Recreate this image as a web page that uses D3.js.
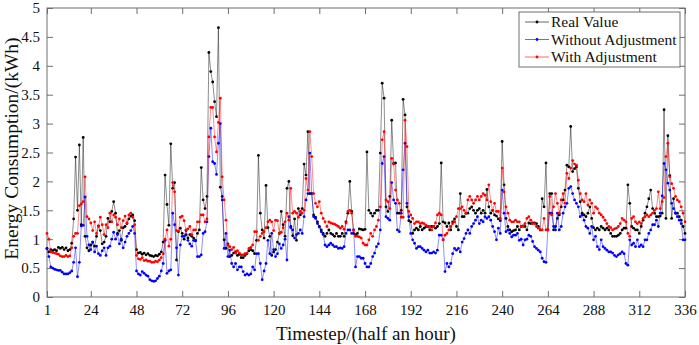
<!DOCTYPE html>
<html>
<head>
<meta charset="utf-8">
<script src="https://cdn.jsdelivr.net/npm/d3@7"></script>
<style>
body { margin: 0; background: #fff; }
svg text { font-family: "Liberation Serif", "Times New Roman", serif; }
</style>
</head>
<body>
<script>
var w = 699;
var h = 345;
var plotLeft = 47, plotRight = 685, plotTop = 8, plotBottom = 297;
var serif = "Liberation Serif, Times New Roman, serif";

var xTicks = [1, 24, 48, 72, 96, 120, 144, 168, 192, 216, 240, 264, 288, 312, 336];
var yTicks = [0, 0.5, 1, 1.5, 2, 2.5, 3, 3.5, 4, 4.5, 5];
var seriesNames = ["Real Value", "Without Adjustment", "With Adjustment"];
var seriesColors = ["#000000", "#0000ff", "#ff0000"];

// half-hour steps 1..336
var realValue = [
  0.84, 0.78, 0.82, 0.80, 0.82, 0.80, 0.86, 0.84, 0.86, 0.82, 0.85, 0.80,
  0.82, 0.93, 1.35, 2.42, 1.50, 2.63, 1.25, 2.76, 1.05, 0.85, 0.80, 0.90,
  0.95, 0.88, 1.05, 1.23, 1.15, 0.92, 0.95, 1.05, 1.36, 1.30, 1.48, 1.65,
  1.45, 1.10, 1.15, 0.98, 1.20, 1.22, 1.27, 1.35, 1.40, 1.42, 1.32, 0.82,
  0.76, 0.77, 0.74, 0.76, 0.73, 0.75, 0.72, 0.71, 0.70, 0.72, 0.71, 0.74,
  0.78, 0.95, 2.11, 1.60, 1.24, 2.65, 1.88, 1.98, 0.64, 1.13, 1.19, 1.10,
  1.00, 1.08, 1.02, 1.08, 1.05, 1.02, 0.97, 1.10, 1.16, 2.24, 1.68, 1.53,
  1.74, 4.23, 3.90, 3.72, 3.38, 3.12, 4.66, 1.90, 1.74, 0.99, 0.84, 0.92,
  0.70, 0.72, 0.76, 0.78, 0.72, 0.74, 0.68, 0.68, 0.72, 0.75, 0.80, 0.82,
  0.80, 0.75, 0.98, 2.45, 1.45, 1.16, 1.02, 1.93, 1.20, 1.05, 0.72, 0.78,
  0.82, 0.95, 1.10, 1.48, 1.25, 1.05, 1.88, 2.00, 1.22, 1.06, 1.35, 0.98,
  1.53, 1.42, 1.53, 2.30, 2.11, 2.86, 1.79, 1.79, 1.42, 1.38, 1.30, 1.22,
  1.16, 1.10, 1.05, 1.10, 1.16, 1.10, 1.08, 1.05, 1.10, 1.05, 1.05, 1.10,
  1.05, 1.30, 1.45, 2.00, 1.48, 1.10, 1.08, 1.10, 1.18, 1.17, 1.16, 1.17,
  2.51, 1.50, 1.45, 1.40, 1.45, 1.50, 1.50, 2.49, 3.70, 3.44, 1.56, 1.48,
  1.74, 3.06, 2.31, 2.32, 1.45, 1.45, 1.50, 3.42, 3.15, 1.56, 1.32, 1.30,
  1.10, 1.16, 1.19, 1.16, 1.22, 1.16, 1.19, 1.22, 1.22, 1.16, 1.22, 1.22,
  1.19, 1.22, 1.27, 2.32, 1.30, 1.28, 1.22, 1.28, 1.16, 1.30, 1.35, 1.22,
  1.16, 1.79, 1.39, 1.39, 1.45, 1.45, 1.53, 1.56, 1.50, 1.45, 1.50, 1.53,
  1.45, 1.50, 1.45, 1.86, 1.56, 1.45, 1.50, 1.42, 1.40, 1.35, 1.32, 2.69,
  1.94, 1.36, 1.22, 1.16, 1.13, 1.15, 1.16, 1.22, 1.16, 1.22, 1.23, 1.22,
  1.16, 1.28, 1.27, 1.28, 1.28, 1.27, 1.22, 1.16, 1.70, 1.56, 2.32, 1.16,
  1.79, 1.79, 1.16, 1.22, 1.36, 1.42, 1.56, 1.68, 1.85, 2.28, 2.25, 2.95,
  2.17, 2.22, 2.25, 1.88, 1.65, 1.45, 1.42, 1.39, 1.45, 1.56, 1.36, 1.20,
  1.16, 1.19, 1.16, 1.22, 1.19, 1.16, 1.19, 1.16, 1.10, 1.05, 1.05, 1.05,
  1.07, 1.10, 1.16, 1.19, 1.19, 1.94, 1.62, 1.22, 1.19, 1.16, 1.16, 1.10,
  1.22, 1.33, 1.45, 1.56, 1.70, 1.85, 1.53, 1.45, 1.39, 1.39, 1.40, 1.45,
  3.24, 1.36, 2.79, 2.10, 1.36, 1.70, 1.45, 1.45, 1.39, 1.33, 1.22, 1.10
];

var withoutAdj = [
  0.84, 0.70, 0.52, 0.50, 0.48, 0.47, 0.46, 0.46, 0.43, 0.40, 0.40, 0.40,
  0.42, 0.45, 0.60, 0.85, 0.35, 0.60, 1.23, 1.24, 1.73, 1.05, 0.90, 0.82,
  0.95, 0.78, 0.88, 0.75, 0.72, 0.80, 0.85, 0.72, 0.85, 0.88, 1.00, 1.12,
  1.00, 1.08, 0.92, 1.00, 0.85, 0.95, 1.05, 1.10, 1.15, 1.22, 1.10, 0.45,
  0.40, 0.38, 0.44, 0.41, 0.38, 0.36, 0.30, 0.28, 0.27, 0.28, 0.32, 0.36,
  0.45, 0.58, 0.98, 0.41, 0.45, 0.47, 1.45, 1.25, 0.85, 0.38, 0.90, 1.05,
  1.05, 1.15, 0.98, 0.92, 0.88, 0.98, 0.98, 0.70, 0.70, 0.73, 1.10, 1.13,
  1.30, 2.43, 2.92, 2.34, 2.31, 2.12, 2.66, 3.00, 1.68, 0.84, 1.10, 0.70,
  0.81, 0.58, 0.52, 0.58, 0.47, 0.52, 0.52, 0.44, 0.38, 0.40, 0.38, 0.40,
  0.52, 0.47, 0.75, 0.75, 0.58, 0.30, 0.45, 0.58, 0.98, 0.75, 1.10, 0.82,
  0.70, 0.75, 0.92, 0.84, 0.90, 1.00, 0.64, 1.39, 1.20, 1.16, 1.02, 1.08,
  1.10, 1.16, 1.10, 1.39, 1.68, 1.79, 2.49, 1.79, 1.39, 1.36, 1.27, 1.21,
  1.13, 1.08, 0.90, 0.87, 0.90, 0.93, 0.90, 0.87, 0.87, 0.84, 0.85, 0.84,
  0.87, 1.10, 1.16, 1.16, 1.10, 1.16, 0.52, 0.70, 0.70, 0.67, 0.67, 0.58,
  0.52, 0.52, 0.58, 0.70, 0.76, 0.87, 0.92, 1.16, 2.31, 2.43, 1.39, 1.36,
  1.33, 1.98, 1.68, 1.62, 1.16, 1.13, 1.45, 2.20, 2.66, 1.62, 1.39, 1.10,
  0.99, 0.93, 0.84, 0.87, 0.87, 0.84, 0.81, 0.78, 0.81, 0.76, 0.76, 0.78,
  0.76, 0.81, 1.07, 1.07, 0.99, 0.44, 0.58, 0.52, 0.58, 0.75, 0.84, 0.81,
  0.84, 0.78, 0.95, 1.01, 1.10, 1.16, 1.10, 1.22, 1.27, 1.33, 1.39, 1.27,
  1.33, 1.30, 1.39, 1.36, 1.39, 1.33, 1.22, 1.13, 0.99, 1.19, 1.10, 1.85,
  1.45, 1.13, 1.16, 1.10, 1.04, 1.07, 1.07, 1.10, 0.98, 1.00, 0.90, 0.99,
  1.00, 1.07, 1.05, 0.96, 0.87, 0.84, 0.81, 0.78, 0.67, 0.61, 0.60, 1.16,
  1.45, 1.45, 1.22, 1.16, 1.45, 1.16, 1.22, 1.45, 1.56, 1.62, 1.88, 1.91,
  1.79, 1.68, 1.62, 1.56, 1.39, 1.42, 1.33, 1.22, 1.19, 1.10, 1.22, 0.99,
  1.05, 0.87, 0.82, 0.99, 0.87, 0.84, 0.81, 0.78, 0.78, 0.76, 0.72, 0.70,
  0.73, 0.75, 0.78, 0.75, 0.58, 0.55, 0.99, 0.90, 0.93, 0.87, 0.99, 0.87,
  0.90, 0.87, 0.99, 0.99, 1.10, 1.16, 1.25, 1.25, 1.33, 1.22, 1.45, 1.75,
  2.31, 2.20, 1.97, 1.85, 1.62, 1.53, 1.45, 1.39, 1.33, 1.27, 0.99, 0.99
];

var withAdj = [
  1.10, 1.00, 0.78, 0.77, 0.76, 0.75, 0.74, 0.71, 0.70, 0.70, 0.72, 0.70,
  0.71, 0.85, 1.05, 1.10, 1.10, 1.58, 1.61, 1.65, 2.08, 1.39, 1.35, 1.28,
  1.15, 1.30, 1.10, 1.22, 1.38, 1.25, 1.08, 1.25, 1.20, 1.45, 1.30, 1.42,
  1.38, 1.25, 1.35, 1.20, 1.32, 1.40, 1.28, 1.42, 1.45, 1.38, 1.25, 0.72,
  0.66, 0.65, 0.68, 0.63, 0.64, 0.62, 0.62, 0.60, 0.60, 0.62, 0.61, 0.64,
  0.68, 0.75, 1.00, 1.16, 0.88, 1.00, 1.98, 1.82, 1.15, 1.14, 1.38, 1.40,
  1.32, 1.16, 1.18, 1.22, 1.08, 1.16, 1.16, 1.30, 1.30, 1.42, 1.42, 1.30,
  1.35, 2.77, 3.28, 3.28, 2.77, 2.51, 3.02, 3.44, 2.08, 1.68, 1.33, 0.90,
  0.87, 0.82, 0.86, 0.76, 0.80, 0.76, 0.73, 0.73, 0.75, 0.76, 0.84, 0.86,
  0.90, 1.13, 1.13, 0.98, 1.05, 1.10, 1.13, 1.20, 1.30, 1.33, 1.30, 1.15,
  1.33, 1.32, 1.10, 1.12, 1.20, 1.30, 1.45, 1.33, 1.88, 1.45, 1.48, 1.45,
  1.38, 1.48, 1.45, 1.50, 2.05, 1.85, 2.86, 2.43, 1.79, 1.62, 1.56, 1.65,
  1.45, 1.36, 1.30, 1.22, 1.30, 1.28, 1.27, 1.26, 1.24, 1.22, 1.19, 1.22,
  1.17, 1.28, 1.48, 1.50, 1.45, 1.16, 1.05, 1.05, 1.04, 1.02, 0.93, 0.90,
  0.90, 0.99, 1.10, 1.05, 1.16, 1.22, 1.33, 1.56, 2.72, 2.86, 1.68, 1.65,
  1.53, 2.40, 2.30, 1.85, 1.68, 1.62, 1.38, 1.38, 3.06, 2.60, 1.48, 1.42,
  1.36, 1.27, 1.30, 1.30, 1.27, 1.28, 1.27, 1.24, 1.22, 1.22, 1.16, 1.22,
  1.28, 1.42, 1.45, 1.42, 0.99, 1.07, 1.10, 1.16, 1.22, 1.27, 1.30, 1.39,
  1.53, 1.53, 1.56, 1.50, 1.45, 1.68, 1.74, 1.68, 1.62, 1.68, 1.74, 1.68,
  1.74, 1.79, 1.76, 1.68, 1.94, 1.65, 1.50, 1.62, 1.48, 1.48, 1.36, 2.23,
  1.82, 1.56, 1.45, 1.33, 1.30, 1.30, 1.33, 1.30, 1.30, 1.22, 1.22, 1.27,
  1.36, 1.39, 1.33, 1.27, 1.27, 1.22, 1.19, 1.16, 1.16, 1.36, 1.16, 1.16,
  1.74, 1.42, 1.56, 1.79, 1.62, 1.45, 1.68, 1.79, 1.62, 2.14, 2.05, 2.23,
  2.36, 2.30, 2.28, 2.02, 1.79, 1.68, 1.65, 1.79, 1.59, 1.68, 1.62, 1.45,
  1.56, 1.53, 1.45, 1.42, 1.38, 1.33, 1.27, 1.22, 1.20, 1.16, 1.18, 1.19,
  1.22, 1.27, 1.36, 1.33, 1.30, 1.10, 1.05, 1.36, 1.39, 1.30, 1.27, 1.30,
  1.27, 1.36, 1.39, 1.42, 1.39, 1.42, 1.45, 1.50, 1.53, 1.82, 1.53, 1.65,
  1.72, 2.43, 2.66, 2.08, 1.96, 1.88, 1.74, 1.68, 1.65, 1.56, 1.45, 1.30
];

var allSeries = [realValue, withoutAdj, withAdj];

var xScale = d3.scaleLinear().domain([1, 336]).range([plotLeft, plotRight]);
var yScale = d3.scaleLinear().domain([0, 5]).range([plotBottom, plotTop]);

var svg = d3.select("body")
    .append("svg")
    .attr("width", w)
    .attr("height", h)
    .attr("font-family", serif);

var axisColor = "#6e6e6e";
var tickLen = 6;

// bottom + top (ticks point inward, box style)
var xAxis = d3.axisBottom(xScale).tickValues(xTicks).tickSizeInner(-tickLen).tickSizeOuter(0).tickPadding(7);
var gx = svg.append("g")
    .attr("transform", "translate(0," + plotBottom + ")")
    .call(xAxis);
var xTop = d3.axisTop(xScale).tickValues(xTicks).tickSizeInner(-tickLen).tickSizeOuter(0).tickFormat("");
var gxt = svg.append("g")
    .attr("transform", "translate(0," + plotTop + ")")
    .call(xTop);

// left + right
var yAxis = d3.axisLeft(yScale).tickValues(yTicks).tickSizeInner(-tickLen).tickSizeOuter(0).tickPadding(7)
    .tickFormat(function(d) { return d; });
var gy = svg.append("g")
    .attr("transform", "translate(" + plotLeft + ",0)")
    .call(yAxis);
var yRight = d3.axisRight(yScale).tickValues(yTicks).tickSizeInner(-tickLen).tickSizeOuter(0).tickFormat("");
var gyr = svg.append("g")
    .attr("transform", "translate(" + plotRight + ",0)")
    .call(yRight);

[gx, gxt, gy, gyr].forEach(function(g) {
  g.attr("font-family", serif).attr("font-size", 15);
  g.select(".domain").remove();
  g.selectAll(".tick line").attr("stroke", axisColor).attr("stroke-width", 1);
  g.selectAll(".tick text").attr("fill", "#111");
});

svg.append("rect")
    .attr("x", plotLeft)
    .attr("y", plotTop)
    .attr("width", plotRight - plotLeft)
    .attr("height", plotBottom - plotTop)
    .attr("fill", "none")
    .attr("stroke", axisColor)
    .attr("stroke-width", 1);

// series lines + dots
var line = d3.line()
    .x(function(d, i) { return xScale(i + 1); })
    .y(function(d) { return yScale(d); });

allSeries.forEach(function(data, k) {
  svg.append("path")
      .datum(data)
      .attr("d", line)
      .attr("fill", "none")
      .attr("stroke", seriesColors[k])
      .attr("stroke-width", 0.6)
      .attr("stroke-opacity", 0.75);
  svg.append("g")
      .selectAll("circle")
      .data(data)
      .enter()
      .append("circle")
      .attr("cx", function(d, i) { return xScale(i + 1); })
      .attr("cy", function(d) { return yScale(d); })
      .attr("r", 1.4)
      .attr("fill", seriesColors[k]);
});

// axis titles
svg.append("text")
    .attr("x", (plotLeft + plotRight) / 2)
    .attr("y", 340)
    .attr("text-anchor", "middle")
    .attr("font-family", serif)
    .attr("font-size", 19)
    .attr("fill", "#111")
    .text("Timestep/(half an hour)");

svg.append("text")
    .attr("transform", "translate(18," + ((plotTop + plotBottom) / 2 - 4) + ") rotate(-90)")
    .attr("text-anchor", "middle")
    .attr("font-family", serif)
    .attr("font-size", 19.5)
    .attr("fill", "#111")
    .text("Energy Consumption/(kWh)");

// legend
var legend = svg.append("g").attr("transform", "translate(519,12)");
legend.append("rect")
    .attr("width", 161)
    .attr("height", 55)
    .attr("fill", "#fff")
    .attr("stroke", axisColor)
    .attr("stroke-width", 1);

seriesNames.forEach(function(name, k) {
  var yy = 10 + k * 17.5;
  legend.append("line")
      .attr("x1", 6).attr("x2", 30)
      .attr("y1", yy).attr("y2", yy)
      .attr("stroke", seriesColors[k])
      .attr("stroke-width", 0.6);
  legend.append("circle")
      .attr("cx", 18).attr("cy", yy).attr("r", 1.4)
      .attr("fill", seriesColors[k]);
  legend.append("text")
      .attr("x", 32)
      .attr("y", yy + 5)
      .attr("font-family", serif)
      .attr("font-size", 15.5)
      .attr("fill", "#111")
      .text(name);
});
</script>
</body>
</html>
